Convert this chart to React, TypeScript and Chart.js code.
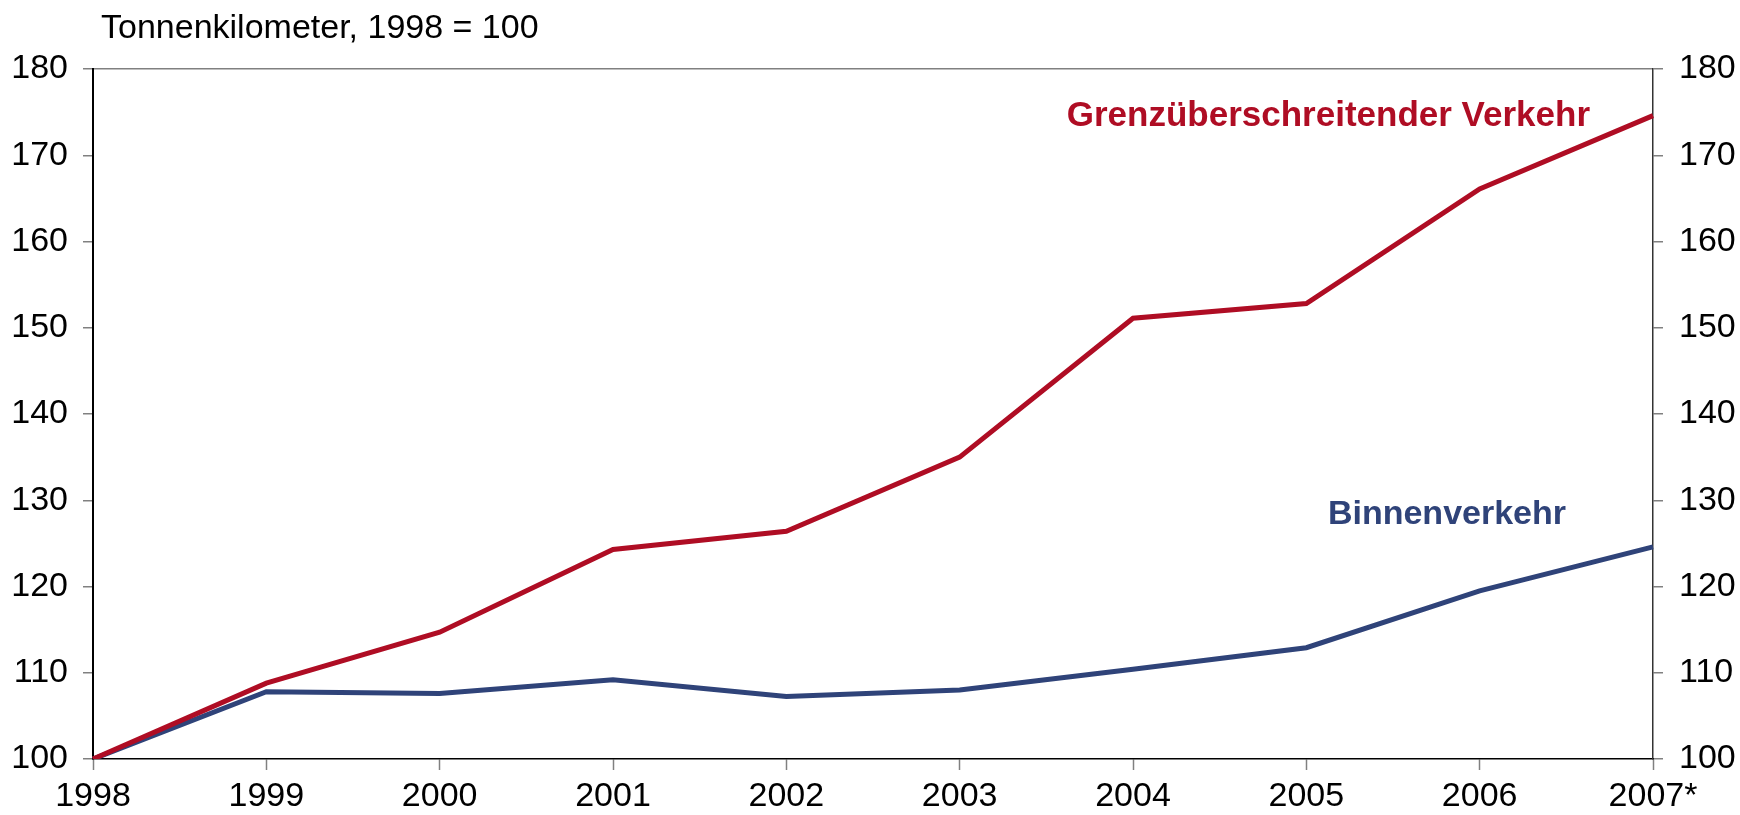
import React, { useEffect, useRef } from "react";
import { Chart, registerables } from "chart.js";

Chart.register(...registerables);

const years = ["1998", "1999", "2000", "2001", "2002", "2003", "2004", "2005", "2006", "2007*"];
const grenzueberschreitend = [100, 108.8, 114.7, 124.3, 126.4, 135.0, 151.1, 152.8, 166.1, 174.6];
const binnenverkehr = [100, 107.8, 107.6, 109.2, 107.25, 108.0, 110.4, 112.9, 119.5, 124.6];
const yMin = 100;
const yMax = 180;
const yStep = 10;

const titleText = "Tonnenkilometer, 1998 = 100";
const grenzLabel = "Grenzüberschreitender Verkehr";
const binnenLabel = "Binnenverkehr";

const RED = "#AF0D24";
const BLUE = "#2F4379";
const FONT = "'Liberation Sans', Arial, sans-serif";

const textPlugin = {
  id: "textPlugin",
  afterDraw(chart: any) {
    const { ctx, scales } = chart;
    const x = scales.x;
    const y = scales.y;
    ctx.save();
    ctx.fillStyle = "#000";
    ctx.font = `34px ${FONT}`;
    ctx.textAlign = "left";
    ctx.textBaseline = "alphabetic";
    ctx.fillText(titleText, 101, 38);

    ctx.font = `bold 35px ${FONT}`;
    ctx.textAlign = "right";
    ctx.fillStyle = RED;
    ctx.fillText(grenzLabel, x.getPixelForValue(9) - 63, y.getPixelForValue(173.4));
    ctx.font = `bold 34px ${FONT}`;
    ctx.fillStyle = BLUE;
    ctx.fillText(binnenLabel, x.getPixelForValue(9) - 87, y.getPixelForValue(127.3));
    ctx.restore();
  },
};

export default function App() {
  const ref = useRef<HTMLCanvasElement>(null);
  useEffect(() => {
    if (!ref.current) return;
    const tickFont = { family: FONT, size: 34 };
    const chart = new Chart(ref.current, {
      type: "line",
      data: {
        labels: years,
        datasets: [
          {
            label: grenzLabel,
            data: grenzueberschreitend,
            borderColor: RED,
            backgroundColor: RED,
            borderWidth: 5,
            pointRadius: 0,
            tension: 0,
            yAxisID: "y",
          },
          {
            label: binnenLabel,
            data: binnenverkehr,
            borderColor: BLUE,
            backgroundColor: BLUE,
            borderWidth: 5,
            pointRadius: 0,
            tension: 0,
            yAxisID: "y",
          },
        ],
      },
      options: {
        responsive: false,
        devicePixelRatio: 1,
        animation: false,
        layout: { padding: { top: 69, left: 0, right: 0, bottom: 0 } },
        plugins: { legend: { display: false }, tooltip: { enabled: false } },
        scales: {
          x: {
            type: "category",
            offset: false,
            grid: {
              display: true,
              drawOnChartArea: false,
              offset: false,
              tickLength: 11,
              tickColor: "#808080",
              tickWidth: 1.5,
            },
            border: { color: "#000", width: 1.5 },
            ticks: { color: "#000", font: tickFont, padding: 6, maxRotation: 0, autoSkip: false },
            afterFit: (s: any) => {
              s.height = 56;
            },
          },
          y: {
            position: "left",
            min: yMin,
            max: yMax,
            ticks: { stepSize: yStep, color: "#000", font: tickFont, padding: 15 },
            grid: {
              color: (c: any) => (c.tick && c.tick.value === yMax ? "#808080" : "rgba(0,0,0,0)"),
              tickColor: "#808080",
              tickLength: 10,
              lineWidth: 1.5,
            },
            border: { color: "#000", width: 2 },
            afterFit: (s: any) => {
              s.width = 93;
            },
          },
          y2: {
            position: "right",
            min: yMin,
            max: yMax,
            ticks: { stepSize: yStep, color: "#000", font: tickFont, padding: 16 },
            grid: {
              drawOnChartArea: false,
              tickColor: "#808080",
              tickLength: 10,
              lineWidth: 1.5,
            },
            border: { color: "#333", width: 1.5 },
            afterFit: (s: any) => {
              s.width = 87;
            },
          },
        },
      },
      plugins: [textPlugin],
    } as any);
    return () => chart.destroy();
  }, []);
  return (
    <div style={{ position: "absolute", left: 0, top: 0, width: 1740, height: 815, background: "#fff" }}>
      <canvas ref={ref} width={1740} height={815} style={{ width: 1740, height: 815 }} />
    </div>
  );
}
